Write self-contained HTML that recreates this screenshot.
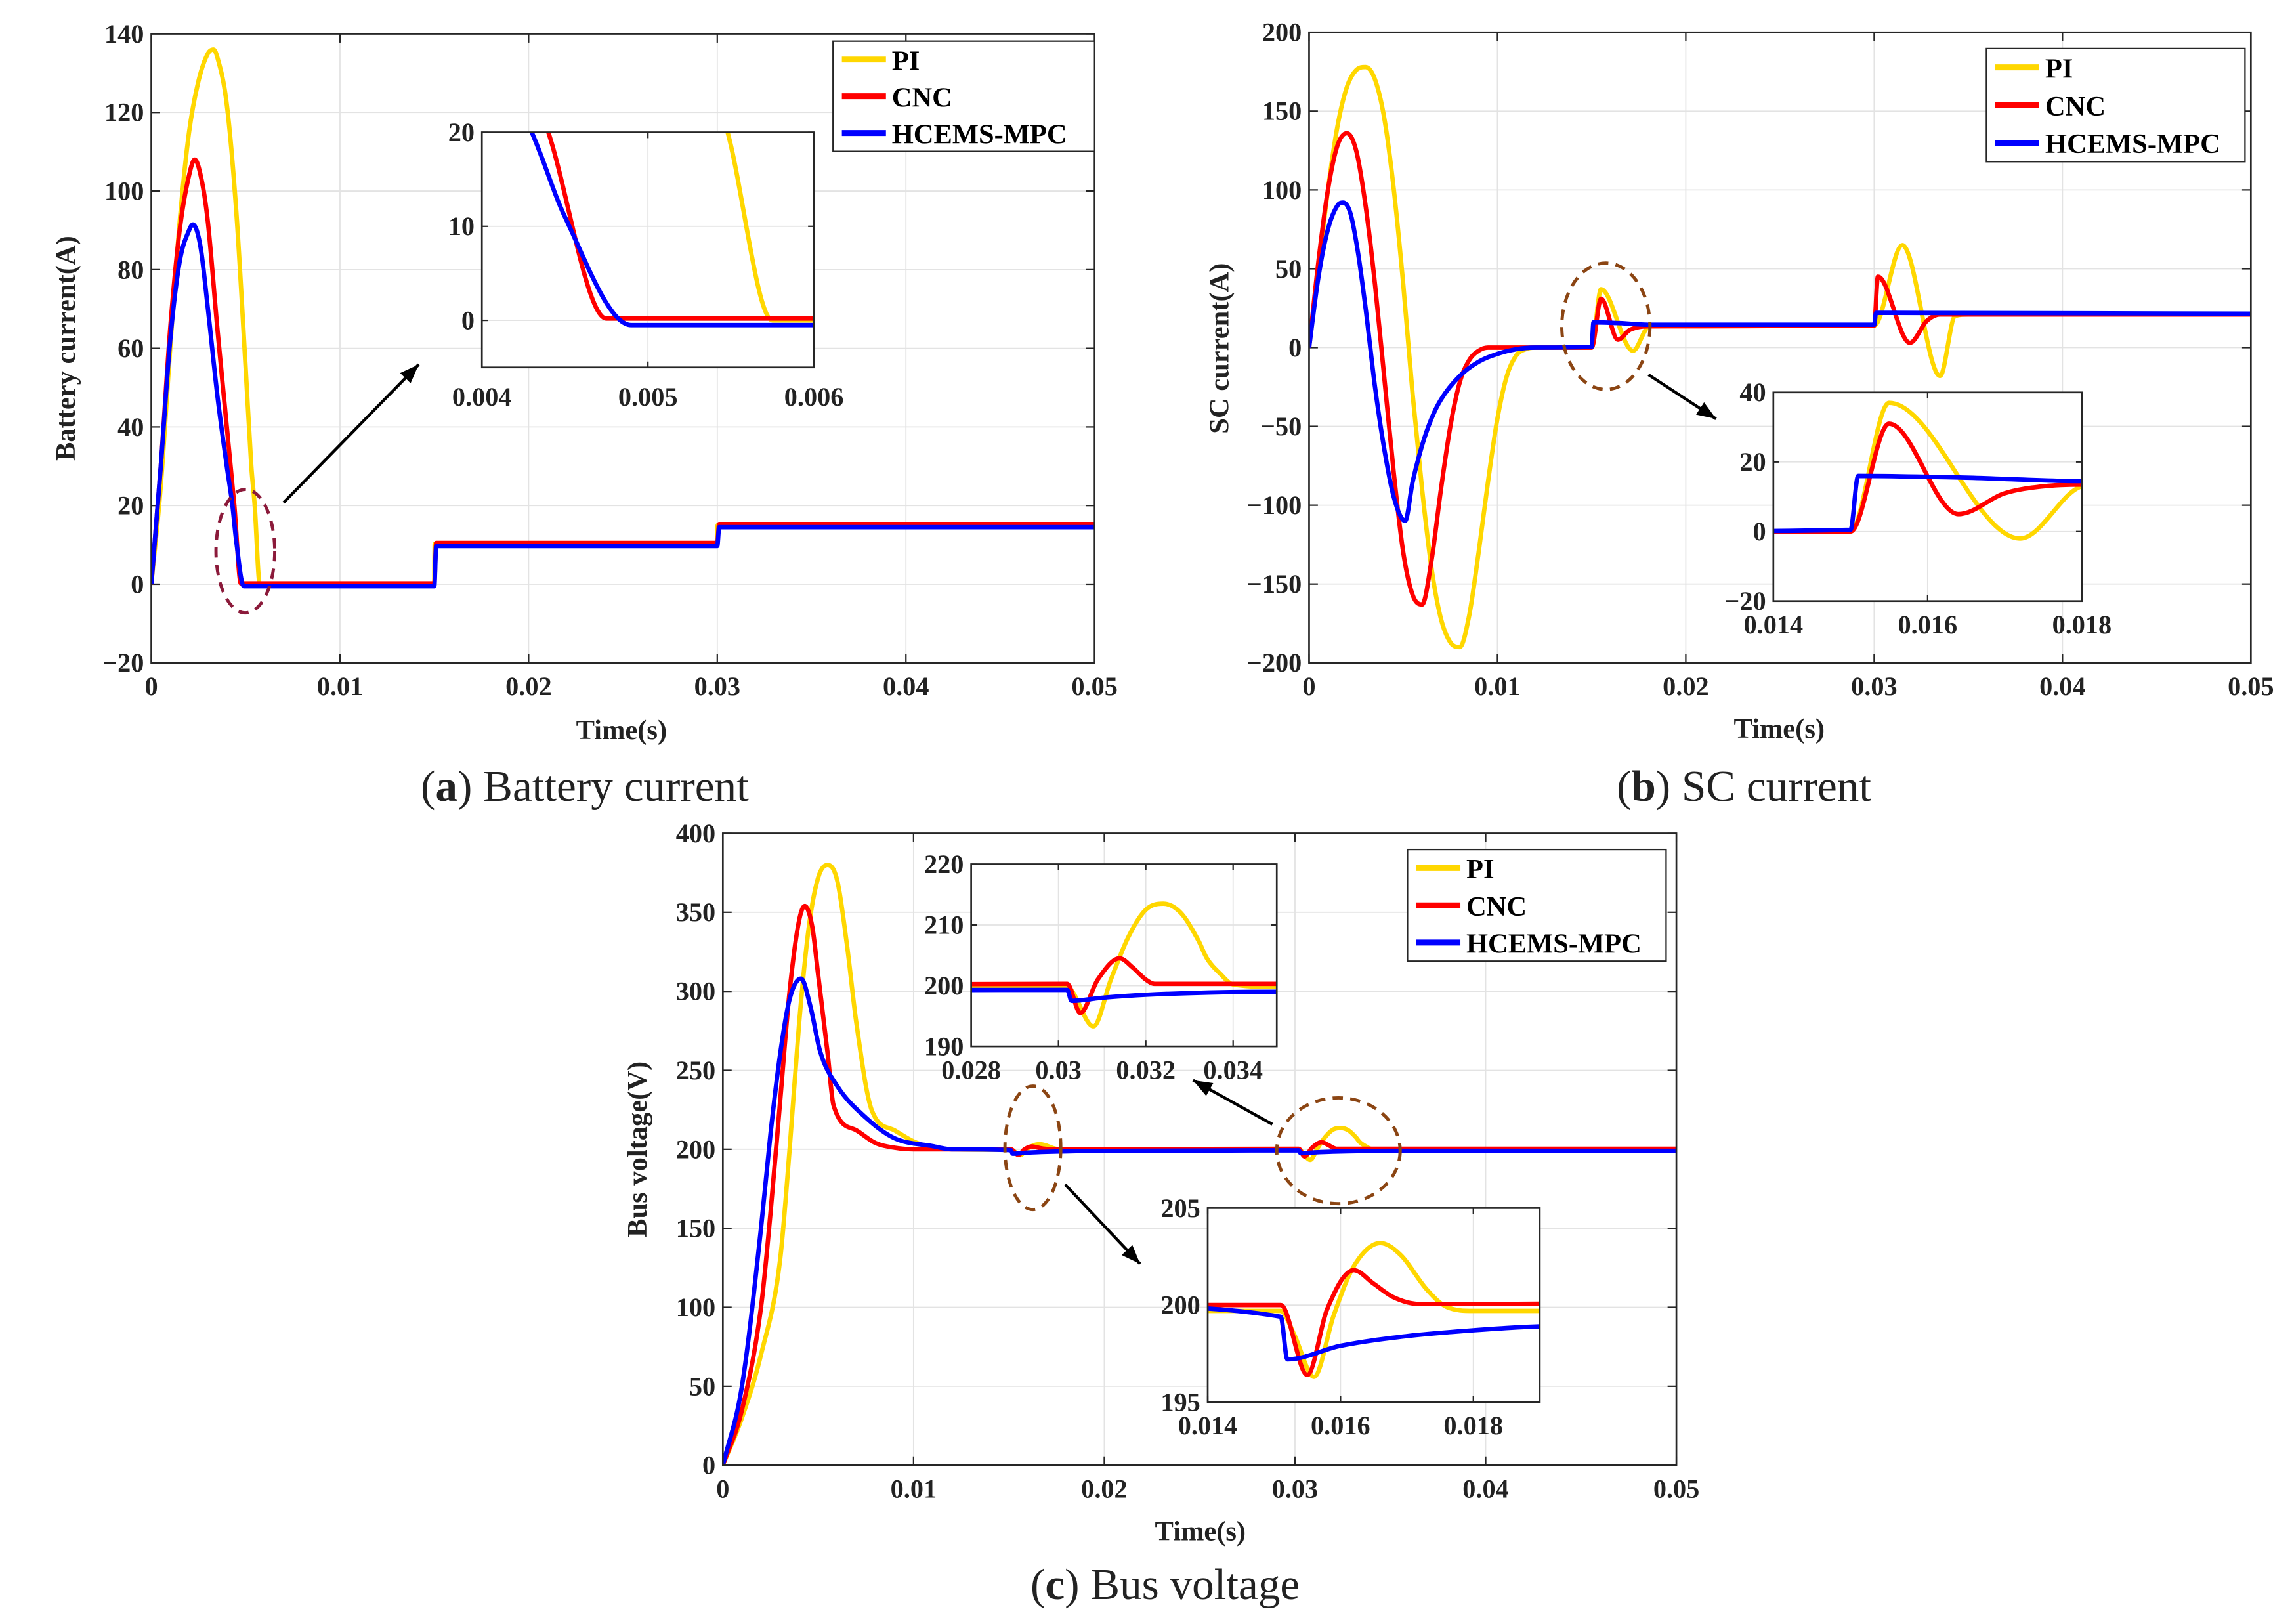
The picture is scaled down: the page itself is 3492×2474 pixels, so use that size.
<!DOCTYPE html>
<html><head><meta charset="utf-8">
<style>
html,body{margin:0;padding:0;background:#fff;width:3492px;height:2474px;overflow:hidden;position:relative;}
svg{display:block;position:absolute;left:0;top:0;}
text{font-family:"Liberation Serif",serif;}
.tk{font-weight:bold;font-size:18px;fill:#222;}
.lab{font-weight:bold;font-size:19px;fill:#222;}
.leg{font-weight:bold;font-size:19px;fill:#000;}
.cap{font-size:30px;fill:#222;}
</style></head>
<body><svg id="fig" width="3492" height="2474" viewBox="0 0 1560 1105" preserveAspectRatio="none" overflow="hidden" xmlns="http://www.w3.org/2000/svg">
<text class="cap" x="398" y="545" text-anchor="middle">(<tspan font-weight="bold">a</tspan>) Battery current</text>
<text class="cap" x="1187" y="545" text-anchor="middle">(<tspan font-weight="bold">b</tspan>) SC current</text>
<text class="cap" x="793" y="1088" text-anchor="middle">(<tspan font-weight="bold">c</tspan>) Bus voltage</text>
</svg><script>
// ---- Data: (a) battery current ----
const batT_PI = [0,0.0005,0.001,0.0015,0.002,0.0025,0.003,0.0033,0.0035,0.004,0.0045,0.005,0.0053,0.00548,0.00575,0.015,0.01502,0.03,0.03002,0.05];
const batV_PI = [0,25,60,92,115,128,135,136,134,122,95,55,30,20,0,0,10.3,10.3,15,15];
const batT_CNC = [0,0.0005,0.001,0.0015,0.002,0.0023,0.0027,0.003,0.0035,0.004,0.0044,0.00475,0.015,0.0151,0.03,0.0301,0.05];
const batV_CNC = [0,30,65,90,104,108,102,92,65,40,20,0.2,0.2,10.5,10.5,15.3,15.3];
const batT_MPC = [0,0.0005,0.001,0.0015,0.002,0.0022,0.0026,0.003,0.0035,0.004,0.0043,0.0045,0.0049,0.015,0.0151,0.03,0.0301,0.05];
const batV_MPC = [0,30,62,82,90,91.5,86,70,48,30,20,11,-0.5,-0.5,9.7,9.7,14.5,14.5];
// ---- Data: (b) SC current ----
const scT_PI = [0,0.0005,0.001,0.0015,0.002,0.0025,0.003,0.0035,0.004,0.0045,0.005,0.0055,0.006,0.0065,0.007,0.0075,0.008,0.0085,0.009,0.0095,0.01,0.0105,0.011,0.0115,0.012,0.015,0.0155,0.0172,0.018,0.0185,0.03,0.0315,0.0335,0.0343,0.035,0.05];
const scV_PI = [0,50,100,140,165,176,178,170,145,100,40,-30,-90,-140,-172,-187,-190,-170,-130,-85,-45,-18,-5,-1,0,0,37,-2,13,14,14,65,-18,20,21,21];
const scT_CNC = [0,0.0005,0.001,0.0015,0.002,0.0025,0.003,0.0035,0.004,0.0045,0.005,0.0055,0.006,0.0065,0.007,0.0075,0.008,0.0085,0.009,0.0095,0.015,0.0155,0.0164,0.017,0.0175,0.018,0.03,0.0302,0.0319,0.0328,0.0335,0.05];
const scV_CNC = [0,55,100,128,136,125,90,40,-20,-80,-130,-157,-163,-135,-90,-50,-22,-8,-2,0,0,31,5,11,13,13.5,14,45,3,17,21,21];
const scT_MPC = [0,0.0005,0.001,0.0015,0.0018,0.0022,0.0026,0.003,0.0035,0.004,0.0045,0.0051,0.0055,0.006,0.0065,0.007,0.008,0.009,0.01,0.011,0.012,0.015,0.0151,0.0165,0.018,0.03,0.0301,0.05];
const scV_MPC = [0,45,75,90,92,85,60,25,-25,-65,-95,-110,-85,-62,-45,-33,-18,-9,-4,-1,0,0.5,16,15.5,14.5,14.5,22,21.5];
// ---- Data: (c) bus voltage ----
const busT_PI = [0,0.001,0.002,0.003,0.0035,0.004,0.0045,0.005,0.0055,0.006,0.0065,0.007,0.0078,0.009,0.01,0.011,0.012,0.014,0.0151,0.0153,0.0156,0.0159,0.0162,0.0166,0.0169,0.0173,0.0176,0.018,0.0302,0.0308,0.0312,0.0316,0.032,0.0324,0.0328,0.0332,0.0334,0.0337,0.034,0.035,0.05];
const busV_PI = [0,30,70,130,200,280,340,372,380,370,330,280,225,212,205,201,200,199.7,199.7,198.5,196.3,199.5,202,203.2,202.6,200.8,199.9,199.7,199.7,193.3,201,208,212.5,213.5,212,207.5,204.5,202,200.2,199.8,199.8];
const busT_CNC = [0,0.001,0.002,0.0025,0.003,0.0035,0.004,0.0043,0.0047,0.005,0.0055,0.0058,0.007,0.008,0.009,0.01,0.0151,0.0155,0.0158,0.0162,0.0165,0.0168,0.0172,0.0302,0.0305,0.0309,0.0314,0.0317,0.032,0.0322,0.05];
const busV_CNC = [0,35,100,160,230,300,345,354,340,310,260,228,212,204,201,200,200,196.4,199.8,201.8,201.1,200.4,200.05,200.3,195.5,201,204.5,203,201,200.3,200.3];
const busT_MPC = [0,0.001,0.002,0.0025,0.003,0.0035,0.0041,0.0046,0.0051,0.006,0.0075,0.009,0.011,0.012,0.0151,0.0152,0.016,0.017,0.018,0.019,0.0302,0.0303,0.031,0.032,0.035,0.05];
const busV_MPC = [0,50,150,210,260,295,308,290,262,240,220,207,202,200,199.4,197.2,197.9,198.4,198.7,198.9,199.3,197.5,198,198.5,199,199];
// ---- Tick labels ----
const aYTicks = [140,120,100,80,60,40,20,0,-20];
const aXTicks = [0,0.01,0.02,0.03,0.04,0.05];
const bYTicks = [200,150,100,50,0,-50,-100,-150,-200];
const cYTicks = [400,350,300,250,200,150,100,50,0];
const aiXTicks = [0.004,0.005,0.006]; const aiYTicks = [20,10,0];
const biXTicks = [0.014,0.016,0.018]; const biYTicks = [40,20,0,-20];
const c1XTicks = [0.028,0.03,0.032,0.034]; const c1YTicks = [220,210,200,190];
const c2XTicks = [0.014,0.016,0.018]; const c2YTicks = [205,200,195];

const NS = "http://www.w3.org/2000/svg";
const svg = document.getElementById('fig');
const COLORS = ['#FFD700','#FF0000','#0000FF'];
const NAMES = ['PI','CNC','HCEMS-MPC'];
let clipId = 0;
function mk(tag, attrs, parent){ const e=document.createElementNS(NS,tag); for(const k in attrs) e.setAttribute(k,attrs[k]); (parent||svg).appendChild(e); return e; }
function fmt(v){ if(v<0) return '\u2212'+Math.abs(v); return String(v); }
function monoPath(P){
  const n=P.length; if(n<2) return '';
  const d=[],m=[];
  for(let i=0;i<n-1;i++){ const dx=P[i+1][0]-P[i][0]; d.push(dx===0?0:(P[i+1][1]-P[i][1])/dx); }
  m[0]=d[0]; m[n-1]=d[n-2];
  for(let i=1;i<n-1;i++){ m[i]=(d[i-1]*d[i]<=0)?0:(d[i-1]+d[i])/2; }
  for(let i=0;i<n-1;i++){
    if(d[i]===0){m[i]=0;m[i+1]=0;continue;}
    const a=m[i]/d[i], b=m[i+1]/d[i], s=a*a+b*b;
    if(s>9){const t=3/Math.sqrt(s); m[i]=t*a*d[i]; m[i+1]=t*b*d[i];}
  }
  let s='M'+P[0][0].toFixed(2)+','+P[0][1].toFixed(2);
  for(let i=0;i<n-1;i++){
    const h=(P[i+1][0]-P[i][0])/3;
    s+=' C'+(P[i][0]+h).toFixed(2)+','+(P[i][1]+m[i]*h).toFixed(2)+' '+(P[i+1][0]-h).toFixed(2)+','+(P[i+1][1]-m[i+1]*h).toFixed(2)+' '+P[i+1][0].toFixed(2)+','+P[i+1][1].toFixed(2);
  }
  return s;
}

function axes(o){
  const g = mk('g',{});
  
  
  const sx = t => o.x0 + (t-o.xmin)/(o.xmax-o.xmin)*(o.x1-o.x0);
  const sy = v => o.y1 - (v-o.ymin)/(o.ymax-o.ymin)*(o.y1-o.y0);
  const bg = mk('rect',{x:o.x0,y:o.y0,width:o.x1-o.x0,height:o.y1-o.y0,fill:'#fff'},g);
  
  
  const tl = o.tl || 6;
  o.xt.forEach(t=>{
    const X=sx(t);
    const gl = mk('line',{x1:X,x2:X,y1:o.y0,y2:o.y1,stroke:'#e3e3e3','stroke-width':0.8},g);
    
    
    mk('line',{x1:X,x2:X,y1:o.y1,y2:o.y1-tl,stroke:'#262626','stroke-width':1},g);
    mk('line',{x1:X,x2:X,y1:o.y0,y2:o.y0+tl,stroke:'#262626','stroke-width':1},g);
    const tx = mk('text',{x:X,y:o.y1+(o.xlOff||22),'text-anchor':'middle',class:'tk'},g);
    tx.textContent = fmt(t);
    
    
  });
  o.yt.forEach(v=>{
    const Y=sy(v);
    const gl = mk('line',{x1:o.x0,x2:o.x1,y1:Y,y2:Y,stroke:'#e3e3e3','stroke-width':0.8},g);
    
    
    mk('line',{x1:o.x0,x2:o.x0+tl,y1:Y,y2:Y,stroke:'#262626','stroke-width':1},g);
    mk('line',{x1:o.x1,x2:o.x1-tl,y1:Y,y2:Y,stroke:'#262626','stroke-width':1},g);
    const tx = mk('text',{x:o.x0-5,y:Y+6,'text-anchor':'end',class:'tk'},g);
    tx.textContent = fmt(v);
    
    
  });
  const cid = 'clip'+(clipId++);
  const cp = mk('clipPath',{id:cid},g);
  mk('rect',{x:o.x0,y:o.y0,width:o.x1-o.x0,height:o.y1-o.y0},cp);
  const sg = mk('g',{'clip-path':'url(#'+cid+')'},g);
  o.series.forEach((s,i)=>{
    const P = s[0].map((t,j)=>[sx(t),sy(s[1][j])]);
    const pl = mk('path',{d:monoPath(P),fill:'none',stroke:COLORS[i],'stroke-width':o.lw||3,'stroke-linejoin':'round'},sg);
    
    
  });
  const bx = mk('rect',{x:o.x0,y:o.y0,width:o.x1-o.x0,height:o.y1-o.y0,fill:'none',stroke:'#262626','stroke-width':1.2},g);
  
  
  if(o.xlabel){
    const t = mk('text',{x:o.xlabel[1],y:o.xlabel[2],'text-anchor':'middle',class:'lab'},g);
    t.textContent = o.xlabel[0];
    
    
  }
  if(o.ylabel){
    const t = mk('text',{x:0,y:0,'text-anchor':'middle',class:'lab',transform:'translate('+o.ylabel[1]+','+o.ylabel[2]+') rotate(-90)'},g);
    t.textContent = o.ylabel[0];
    
    
  }
}
function legend(x0,y0,x1,y1,name){
  const g = mk('g',{});
  
  
  mk('rect',{x:x0,y:y0,width:x1-x0,height:y1-y0,fill:'#fff',stroke:'#262626','stroke-width':1},g);
  const step=(y1-y0)/3;
  NAMES.forEach((n,i)=>{
    const y=y0+step*(i+0.5);
    const ln = mk('line',{x1:x0+6,x2:x0+36,y1:y,y2:y,stroke:COLORS[i],'stroke-width':4},g);
    
    
    const t = mk('text',{x:x0+40,y:y+7,class:'leg'},g);
    t.textContent = n;
    
    
  });
}
function ellipse(cx,cy,rx,ry,col,name){
  const e = mk('ellipse',{cx:cx,cy:cy,rx:rx,ry:ry,fill:'none',stroke:col,'stroke-width':2.2,'stroke-dasharray':'7,5'});
  
  
}
function arrow(x1,y1,x2,y2,name){
  const g = mk('g',{});
  
  
  mk('line',{x1:x1,y1:y1,x2:x2,y2:y2,stroke:'#000','stroke-width':2},g);
  const a=Math.atan2(y2-y1,x2-x1), L=13, W=5;
  const bx=x2-L*Math.cos(a), by=y2-L*Math.sin(a);
  mk('polygon',{points:`${x2},${y2} ${bx+W*Math.sin(a)},${by-W*Math.cos(a)} ${bx-W*Math.sin(a)},${by+W*Math.cos(a)}`,fill:'#000'},g);
}
const serA = [[batT_PI,batV_PI],[batT_CNC,batV_CNC],[batT_MPC,batV_MPC]];
const serB = [[scT_PI,scV_PI],[scT_CNC,scV_CNC],[scT_MPC,scV_MPC]];
const serC = [[busT_PI,busV_PI],[busT_CNC,busV_CNC],[busT_MPC,busV_MPC]];

axes({name:'battery-current-chart',x0:103,x1:745,y0:23,y1:451,xmin:0,xmax:0.05,ymin:-20,ymax:140,xt:aXTicks,yt:aYTicks,series:serA,xlabel:['Time(s)',423,503],ylabel:['Battery current(A)',51,237]});
legend(567,28,745,103,'legend-a');
axes({name:'battery-current-inset',x0:328,x1:554,y0:90,y1:250,xmin:0.004,xmax:0.006,ymin:-5,ymax:20,xt:aiXTicks,yt:aiYTicks,series:serA,xlOff:26,tl:4});
ellipse(167,375,20,42,'#8B1A3A','zoom-ellipse-a');
arrow(193,342,285,248,'zoom-arrow-a');

axes({name:'sc-current-chart',x0:891,x1:1532,y0:22,y1:451,xmin:0,xmax:0.05,ymin:-200,ymax:200,xt:aXTicks,yt:bYTicks,series:serB,xlabel:['Time(s)',1211,502],ylabel:['SC current(A)',836,237]});
legend(1352,33,1528,110,'legend-b');
axes({name:'sc-current-inset',x0:1207,x1:1417,y0:267,y1:409,xmin:0.014,xmax:0.018,ymin:-20,ymax:40,xt:biXTicks,yt:biYTicks,series:serB,tl:4});
ellipse(1093,222,30,43,'#8B4513','zoom-ellipse-b');
arrow(1122,255,1168,285,'zoom-arrow-b');

axes({name:'bus-voltage-chart',x0:492,x1:1141,y0:567,y1:997,xmin:0,xmax:0.05,ymin:0,ymax:400,xt:aXTicks,yt:cYTicks,series:serC,xlabel:['Time(s)',817,1048],ylabel:['Bus voltage(V)',440,782]});
legend(958,578,1134,654,'legend-c');
axes({name:'bus-voltage-inset-upper',x0:661,x1:869,y0:588,y1:712,xmin:0.028,xmax:0.035,ymin:190,ymax:220,xt:c1XTicks,yt:c1YTicks,series:serC,tl:4});
axes({name:'bus-voltage-inset-lower',x0:822,x1:1048,y0:822,y1:954,xmin:0.014,xmax:0.019,ymin:195,ymax:205,xt:c2XTicks,yt:c2YTicks,series:serC,tl:4});
ellipse(703,781,19,42,'#8B4513','zoom-ellipse-c1');
ellipse(911,783,42,36,'#8B4513','zoom-ellipse-c2');
arrow(725,806,776,860,'zoom-arrow-c1');
arrow(866,765,812,735,'zoom-arrow-c2');
</script></body></html>
